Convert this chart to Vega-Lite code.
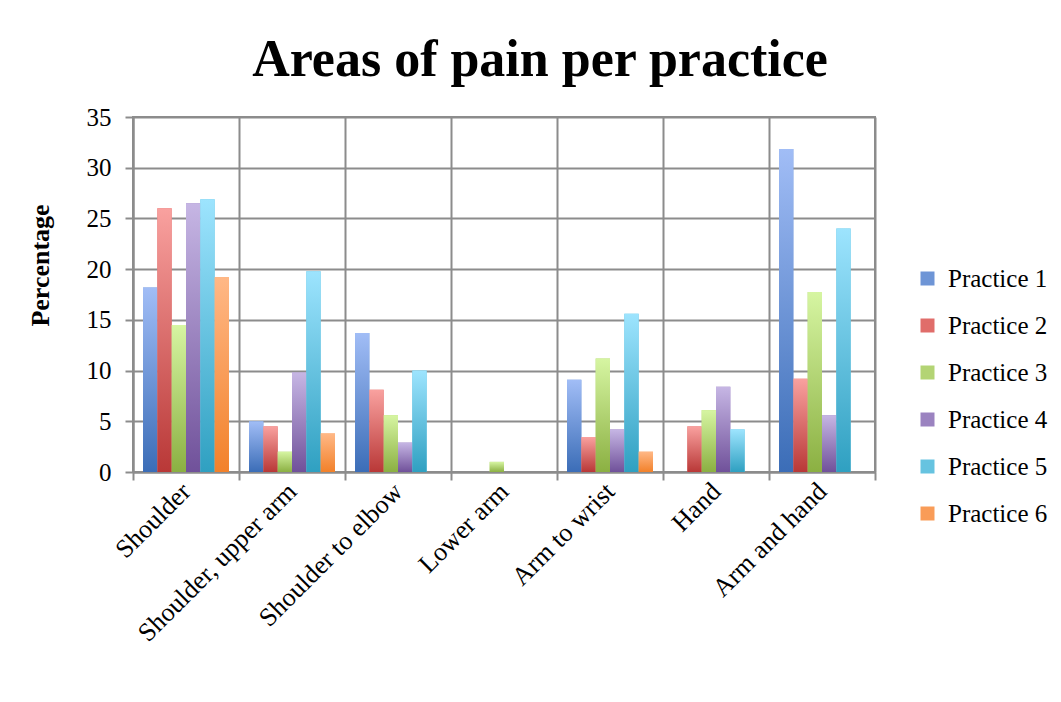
{
  "$schema": "https://vega.github.io/schema/vega-lite/v6.json",
  "width": 742,
  "height": 355,
  "autosize": {"type": "none"},
  "padding": {"left": 133, "top": 117, "right": 186, "bottom": 230},
  "background": "white",
  "title": {
    "text": "Areas of pain per practice",
    "font": "Liberation Serif",
    "fontSize": 52,
    "fontWeight": "bold",
    "color": "black",
    "anchor": "middle",
    "frame": "group",
    "dx": 36,
    "dy": 64,
    "baseline": "alphabetic",
    "offset": 41
  },
  "data": {
    "values": [
      {"area": "Shoulder", "practice": "Practice 1", "pct": 18.2},
      {"area": "Shoulder", "practice": "Practice 2", "pct": 26.0},
      {"area": "Shoulder", "practice": "Practice 3", "pct": 14.5},
      {"area": "Shoulder", "practice": "Practice 4", "pct": 26.5},
      {"area": "Shoulder", "practice": "Practice 5", "pct": 26.9},
      {"area": "Shoulder", "practice": "Practice 6", "pct": 19.2},
      {"area": "Shoulder, upper arm", "practice": "Practice 1", "pct": 5.0},
      {"area": "Shoulder, upper arm", "practice": "Practice 2", "pct": 4.5},
      {"area": "Shoulder, upper arm", "practice": "Practice 3", "pct": 2.0},
      {"area": "Shoulder, upper arm", "practice": "Practice 4", "pct": 9.8},
      {"area": "Shoulder, upper arm", "practice": "Practice 5", "pct": 19.8},
      {"area": "Shoulder, upper arm", "practice": "Practice 6", "pct": 3.8},
      {"area": "Shoulder to elbow", "practice": "Practice 1", "pct": 13.7},
      {"area": "Shoulder to elbow", "practice": "Practice 2", "pct": 8.1},
      {"area": "Shoulder to elbow", "practice": "Practice 3", "pct": 5.6},
      {"area": "Shoulder to elbow", "practice": "Practice 4", "pct": 2.9},
      {"area": "Shoulder to elbow", "practice": "Practice 5", "pct": 10.0},
      {"area": "Shoulder to elbow", "practice": "Practice 6", "pct": 0},
      {"area": "Lower arm", "practice": "Practice 1", "pct": 0},
      {"area": "Lower arm", "practice": "Practice 2", "pct": 0},
      {"area": "Lower arm", "practice": "Practice 3", "pct": 1.0},
      {"area": "Lower arm", "practice": "Practice 4", "pct": 0},
      {"area": "Lower arm", "practice": "Practice 5", "pct": 0},
      {"area": "Lower arm", "practice": "Practice 6", "pct": 0},
      {"area": "Arm to wrist", "practice": "Practice 1", "pct": 9.1},
      {"area": "Arm to wrist", "practice": "Practice 2", "pct": 3.45},
      {"area": "Arm to wrist", "practice": "Practice 3", "pct": 11.2},
      {"area": "Arm to wrist", "practice": "Practice 4", "pct": 4.2},
      {"area": "Arm to wrist", "practice": "Practice 5", "pct": 15.6},
      {"area": "Arm to wrist", "practice": "Practice 6", "pct": 2.0},
      {"area": "Hand", "practice": "Practice 1", "pct": 0},
      {"area": "Hand", "practice": "Practice 2", "pct": 4.5},
      {"area": "Hand", "practice": "Practice 3", "pct": 6.1},
      {"area": "Hand", "practice": "Practice 4", "pct": 8.4},
      {"area": "Hand", "practice": "Practice 5", "pct": 4.2},
      {"area": "Hand", "practice": "Practice 6", "pct": 0},
      {"area": "Arm and hand", "practice": "Practice 1", "pct": 31.85},
      {"area": "Arm and hand", "practice": "Practice 2", "pct": 9.2},
      {"area": "Arm and hand", "practice": "Practice 3", "pct": 17.75},
      {"area": "Arm and hand", "practice": "Practice 4", "pct": 5.6},
      {"area": "Arm and hand", "practice": "Practice 5", "pct": 24.0},
      {"area": "Arm and hand", "practice": "Practice 6", "pct": 0}
    ]
  },
  "encoding": {
    "x": {
      "field": "area",
      "type": "nominal",
      "sort": null,
      "scale": {"paddingInner": 0, "paddingOuter": 0},
      "axis": {
        "title": null,
        "tickBand": "extent",
        "grid": true,
        "gridColor": "#8c8c8c",
        "gridWidth": 2,
        "gridOpacity": 1,
        "domainColor": "#8c8c8c",
        "domainWidth": 2,
        "tickColor": "#8c8c8c",
        "tickWidth": 2,
        "tickSize": 8,
        "labelAngle": -45,
        "labelAlign": "right",
        "labelBaseline": "middle",
        "labelPadding": 7,
        "labelFont": "Liberation Serif",
        "labelFontSize": 26,
        "labelColor": "black",
        "labelLimit": 400
      }
    },
    "xOffset": {
      "field": "practice",
      "type": "nominal",
      "scale": {
        "domain": ["Practice 1", "Practice 2", "Practice 3", "Practice 4", "Practice 5", "Practice 6"],
        "paddingInner": 0,
        "paddingOuter": 0.7
      }
    },
    "y": {
      "field": "pct",
      "type": "quantitative",
      "scale": {"domain": [0, 35], "nice": false},
      "axis": {
        "title": "Percentage",
        "values": [0, 5, 10, 15, 20, 25, 30, 35],
        "grid": true,
        "gridColor": "#8c8c8c",
        "gridWidth": 2,
        "gridOpacity": 1,
        "domainColor": "#8c8c8c",
        "domainWidth": 2,
        "tickColor": "#8c8c8c",
        "tickWidth": 2,
        "tickSize": 8,
        "labelPadding": 14,
        "labelFont": "Liberation Serif",
        "labelFontSize": 25,
        "labelColor": "black",
        "titleFont": "Liberation Serif",
        "titleFontSize": 26,
        "titleFontWeight": "bold",
        "titleColor": "black",
        "titleAngle": 270,
        "titleAlign": "center",
        "titleBaseline": "middle",
        "titleX": -93,
        "titleY": 148
      }
    }
  },
  "layer": [
    {
      "mark": {"type": "bar"},
      "encoding": {
        "color": {
          "field": "practice",
          "type": "nominal",
          "scale": {
            "domain": ["Practice 1", "Practice 2", "Practice 3", "Practice 4", "Practice 5", "Practice 6"],
            "range": ["#6e95d6", "#e06d6a", "#b3d474", "#9b83c0", "#66c3e0", "#f99c58"]
          },
          "legend": {
            "title": null,
            "orient": "none",
            "legendX": 782,
            "legendY": 149,
            "padding": 0,
            "symbolType": "square",
            "symbolSize": 196,
            "symbolStrokeWidth": 0,
            "symbolOpacity": 1,
            "labelFont": "Liberation Serif",
            "labelFontSize": 25,
            "labelColor": "black",
            "labelOffset": 8,
            "rowPadding": 21
          }
        }
      }
    },
    {
      "transform": [{"filter": "datum.practice === 'Practice 1'"}],
      "mark": {"type": "bar", "color": {"gradient": "linear", "x1": 0, "y1": 0, "x2": 0, "y2": 1, "stops": [{"offset": 0, "color": "#a1bdf6"}, {"offset": 1, "color": "#3b6db7"}]}}
    },
    {
      "transform": [{"filter": "datum.practice === 'Practice 2'"}],
      "mark": {"type": "bar", "color": {"gradient": "linear", "x1": 0, "y1": 0, "x2": 0, "y2": 1, "stops": [{"offset": 0, "color": "#f9a19f"}, {"offset": 1, "color": "#b93837"}]}}
    },
    {
      "transform": [{"filter": "datum.practice === 'Practice 3'"}],
      "mark": {"type": "bar", "color": {"gradient": "linear", "x1": 0, "y1": 0, "x2": 0, "y2": 1, "stops": [{"offset": 0, "color": "#d6f5a2"}, {"offset": 1, "color": "#8bb042"}]}}
    },
    {
      "transform": [{"filter": "datum.practice === 'Practice 4'"}],
      "mark": {"type": "bar", "color": {"gradient": "linear", "x1": 0, "y1": 0, "x2": 0, "y2": 1, "stops": [{"offset": 0, "color": "#c6b6e4"}, {"offset": 1, "color": "#70519a"}]}}
    },
    {
      "transform": [{"filter": "datum.practice === 'Practice 5'"}],
      "mark": {"type": "bar", "color": {"gradient": "linear", "x1": 0, "y1": 0, "x2": 0, "y2": 1, "stops": [{"offset": 0, "color": "#9de4fe"}, {"offset": 1, "color": "#2fa0c1"}]}}
    },
    {
      "transform": [{"filter": "datum.practice === 'Practice 6'"}],
      "mark": {"type": "bar", "color": {"gradient": "linear", "x1": 0, "y1": 0, "x2": 0, "y2": 1, "stops": [{"offset": 0, "color": "#ffb886"}, {"offset": 1, "color": "#f2812a"}]}}
    }
  ],
  "config": {
    "view": {"stroke": "#8c8c8c", "strokeWidth": 2}
  }
}
